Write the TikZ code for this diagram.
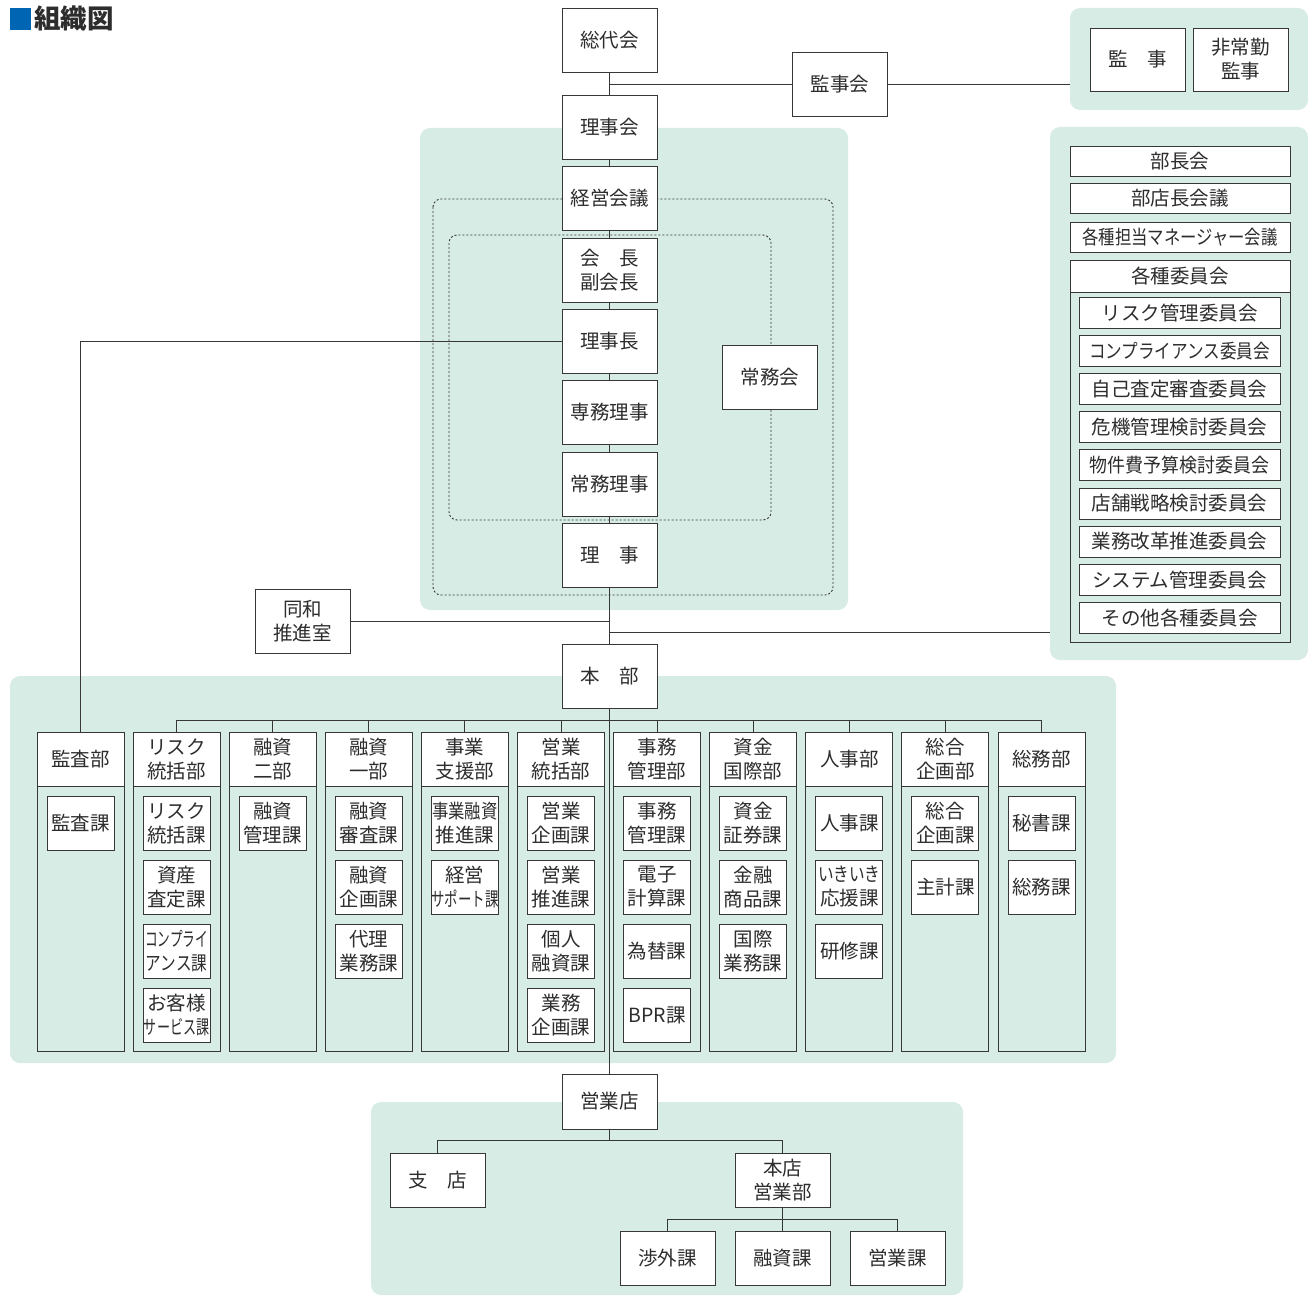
\documentclass[tikz,border=0pt]{standalone}
\usepackage{fontspec}
\setmainfont{Noto Sans CJK JP}
\usepackage{graphicx}

\definecolor{mint}{RGB}{215,236,228}
\definecolor{linec}{RGB}{55,55,55}
\definecolor{txt}{RGB}{45,45,45}
\definecolor{titleblue}{RGB}{0,102,179}

\newcommand\narrow[2]{\scalebox{#1}[1]{#2}}

\begin{document}
\begin{tikzpicture}[
    x=1pt, y=-1pt,
    panel/.style={fill=mint, rounded corners=10pt, inner sep=0pt},
    unit/.style={rectangle, draw=linec, fill=white, line width=0.9pt, inner sep=0pt,
        minimum width=95pt, minimum height=64pt, align=center, text=txt,
        font=\fontsize{19.5}{24}\selectfont},
    comm/.style={unit, minimum width=220pt, minimum height=30pt},
    commitem/.style={unit, minimum width=201pt, minimum height=31pt},
    depthead/.style={unit, minimum width=87pt, minimum height=54pt},
    sect/.style={unit, minimum width=67pt, minimum height=54pt},
    frame/.style={draw=linec, line width=0.9pt},
    link/.style={draw=linec, line width=0.9pt},
    dots/.style={draw=linec, line width=0.9pt, dash pattern=on 2pt off 2pt, rounded corners=8pt}
]
    \useasboundingbox (0,0) rectangle (1308,1295);

    % Title
    \fill[titleblue] (10,8) rectangle (31,30);
    \node[anchor=west, inner sep=0pt, text=txt, font=\fontsize{26.5}{26}\selectfont\bfseries] (title) at (34,19) {組織図};

    % Panels
    \node[panel, minimum width=238pt, minimum height=102pt] (kanjipanel) at (1189,59) {};
    \node[panel, minimum width=258pt, minimum height=533pt] (commpanel) at (1179,393.5) {};
    \node[panel, minimum width=428pt, minimum height=482pt] (toppanel) at (634,369) {};
    \node[panel, minimum width=1106pt, minimum height=387pt] (deptpanel) at (563,869.5) {};
    \node[panel, minimum width=592pt, minimum height=193pt] (shoppanel) at (667,1198.5) {};

    \draw[dots] (433,199) rectangle (833,595);
    \draw[dots] (449,235) rectangle (771,520);

    % Board
    \node[unit] (sodaikai) at (609.5,40) {総代会};
    \node[unit] (rijikai) at (609.5,127) {理事会};
    \node[unit] (keiei) at (609.5,198.5) {経営会議};
    \node[unit] (kaicho) at (609.5,270) {会　長\\副会長};
    \node[unit] (rijicho) at (609.5,341) {理事長};
    \node[unit] (senmu) at (609.5,412.5) {専務理事};
    \node[unit] (jomu) at (609.5,484) {常務理事};
    \node[unit] (riji) at (609.5,555) {理　事};
    \node[unit] (jomukai) at (770,377) {常務会};
    \node[unit] (kanjikai) at (840,84) {監事会};
    \node[unit, minimum height=63pt] (kanji) at (1137.5,59.5) {監　事};
    \node[unit, minimum height=63pt] (hijokin) at (1240.5,59.5) {非常勤\\監事};
    \node[unit] (dowa) at (302.5,621.5) {同和\\推進室};
    \node[unit] (honbu) at (609.5,676) {本　部};
    \node[unit, minimum height=55pt] (eigyoten) at (609.5,1101.5) {営業店};

    % Committees
    \node[comm] (bucho) at (1180,161) {部長会};
    \node[comm] (butencho) at (1180,198) {部店長会議};
    \node[comm] (manager) at (1180,237) {\narrow{0.84}{各種担当マネージャー会議}};
    \draw[frame] (1070,260) rectangle (1290,642);
    \node[comm, minimum height=32pt] (iinkai) at (1180,276) {各種委員会};
    \foreach \t [count=\k from 0] in {リスク管理委員会, \narrow{0.85}{コンプライアンス委員会},
        自己査定審査委員会, 危機管理検討委員会, \narrow{0.92}{物件費予算検討委員会}, 店舗戦略検討委員会,
        業務改革推進委員会, システム管理委員会, その他各種委員会}
        \node[commitem] (item\k) at (1179.5,313+38.1*\k) {\t};

    % Departments
    \foreach \h [count=\i from 0] in {監査部, {リスク\\統括部}, {融資\\二部}, {融資\\一部},
        {事業\\支援部}, {営業\\統括部}, {事務\\管理部}, {資金\\国際部}, 人事部,
        {総合\\企画部}, 総務部} {
        \draw[frame] (37+96.1*\i,732) rectangle ++(87,319);
        \node[depthead] (dept\i) at (80.5+96.1*\i,759) {\h};
    }
    \foreach \i/\j/\t in {0/0/監査課,
        1/0/{リスク\\統括課}, 1/1/{資産\\査定課},
        1/2/{\narrow{0.65}{コンプライ}\\\narrow{0.8}{アンス課}},
        1/3/{お客様\\\narrow{0.67}{サービス課}},
        2/0/{融資\\管理課},
        3/0/{融資\\審査課}, 3/1/{融資\\企画課}, 3/2/{代理\\業務課},
        4/0/{\narrow{0.84}{事業融資}\\推進課}, 4/1/{経営\\\narrow{0.69}{サポート課}},
        5/0/{営業\\企画課}, 5/1/{営業\\推進課}, 5/2/{個人\\融資課}, 5/3/{業務\\企画課},
        6/0/{事務\\管理課}, 6/1/{電子\\計算課}, 6/2/為替課, 6/3/BPR課,
        7/0/{資金\\証券課}, 7/1/{金融\\商品課}, 7/2/{国際\\業務課},
        8/0/人事課, 8/1/{\narrow{0.8}{いきいき}\\応援課}, 8/2/研修課,
        9/0/{総合\\企画課}, 9/1/主計課,
        10/0/秘書課, 10/1/総務課}
        \node[sect] (sec\i-\j) at (80.5+96.1*\i,823+64*\j) {\t};

    % Branches
    \node[unit, minimum height=54pt] (shiten) at (437.5,1180) {支　店};
    \node[unit, minimum height=54pt] (honten) at (782.5,1180) {本店\\営業部};
    \node[unit, minimum height=54pt] (shogai) at (667.5,1258.5) {渉外課};
    \node[unit, minimum height=54pt] (yushika) at (782.5,1258.5) {融資課};
    \node[unit, minimum height=54pt] (eigyoka) at (897.5,1258.5) {営業課};

    % Relationships
    \foreach \a/\b in {sodaikai/rijikai, rijikai/keiei, keiei/kaicho, kaicho/rijicho,
        rijicho/senmu, senmu/jomu, jomu/riji, riji/honbu, honbu/eigyoten}
        \draw[link] (\a) -- (\b);
    \coordinate (kj) at (609.5,84);
    \draw[link] (kj) -- (kanjikai);
    \draw[link] (kanjikai) -- (kanjikai -| kanjipanel.west);
    \draw[link] (rijicho.west) -| (dept0.north);
    \draw[link] (dowa) -- (dowa -| honbu);
    \coordinate (cm) at (609.5,632);
    \draw[link] (cm) -- (cm -| commpanel.west);
    \coordinate (bus) at (0,720);
    \draw[link] (dept1.north |- bus) -- (dept10.north |- bus);
    \foreach \i in {1,...,10}
        \draw[link] (dept\i.north) -- (dept\i.north |- bus);
    \draw[link] (eigyoten.south) -- ++(0,11) coordinate (sbus) -| (shiten.north);
    \draw[link] (sbus) -| (honten.north);
    \draw[link] (honten.south) -- ++(0,12) coordinate (hbus) -| (shogai.north);
    \draw[link] (hbus) -- (yushika.north);
    \draw[link] (hbus) -| (eigyoka.north);

\end{tikzpicture}
\end{document}
